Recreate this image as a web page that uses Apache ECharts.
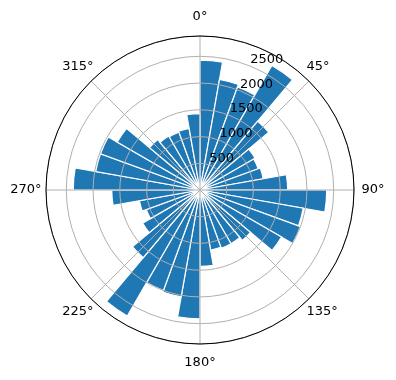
<!DOCTYPE html>
<html>
<head>
<meta charset="utf-8">
<script src="https://cdn.jsdelivr.net/npm/echarts@6/dist/echarts.min.js"></script>
<style>
  html, body { margin: 0; padding: 0; background: #fff; }
  #rose_chart { width: 396px; height: 380px; }
</style>
</head>
<body>
<div id="rose_chart"></div>
<script>
// 每个扇区起始角度（10°一格，顺时针，从正北开始）
const sectors = [
  "0", "10", "20", "30", "40", "50", "60", "70", "80",
  "90", "100", "110", "120", "130", "140", "150", "160", "170",
  "180", "190", "200", "210", "220", "230", "240", "250", "260",
  "270", "280", "290", "300", "310", "320", "330", "340", "350"
];
// 每个扇区的计数
const counts = [
  2430, 2100, 2050, 2690, 1680, 1190, 1160, 1200, 1640,
  2370, 1960, 2000, 1760, 1230, 1160, 1160, 1140, 1430,
  2410, 2030, 2000, 2720, 1650, 1240, 1070, 1150, 1650,
  2370, 1980, 1980, 1790, 1230, 1165, 1150, 1170, 1430
];
const angleTicks = [0, 45, 90, 135, 180, 225, 270, 315];
const radiusTicks = [500, 1000, 1500, 2000, 2500];
const radiusMax = 2880;

const font = { fontFamily: "DejaVu Sans", fontSize: 13, color: "#000" };
const gridColor = "#b0b0b0";

// 角度标签：每个方向用不同的 rich 样式，让文字中心落在同一半径上
const labelStyleName = { 0: "n", 45: "ne", 90: "e", 135: "se", 180: "s", 225: "se", 270: "w", 315: "ne" };
const rich = {
  n: { ...font, padding: [0, 0, 16, 0] },
  s: { ...font, padding: [16, 0, 0, 0] },
  e: { ...font, padding: [0, 0, 0, 11] },
  w: { ...font, padding: [0, 8, 0, 0] },
  ne: { ...font, padding: [0, 0, 10, 0] },
  se: { ...font, padding: [9, 0, 0, 0] }
};

const chart = echarts.init(document.getElementById("rose_chart"));

const option = {
  backgroundColor: "#fff",
  animation: false,
  polar: [
    { center: [200, 190], radius: 154 }, // 柱子
    { center: [200, 190], radius: 154 }, // 网格 + 角度标签
    { center: [200, 190], radius: 154 }  // 半径标签（22.5°方向）
  ],
  angleAxis: [
    {
      polarIndex: 0,
      type: "category",
      data: sectors,
      startAngle: 90,
      clockwise: true,
      show: false
    },
    {
      polarIndex: 1,
      type: "value",
      min: 0,
      max: 360,
      interval: 45,
      startAngle: 90,
      clockwise: true,
      z: 5,
      axisLine: { lineStyle: { color: "#000", width: 1 } },
      axisTick: { show: false },
      axisLabel: {
        ...font,
        margin: -3.5,
        rich: rich,
        formatter: (v) =>
          angleTicks.includes(v) ? "{" + labelStyleName[v] + "|" + v + "°}" : ""
      },
      splitLine: { lineStyle: { color: gridColor, width: 1 } }
    },
    {
      polarIndex: 2,
      type: "value",
      min: 0,
      max: 360,
      startAngle: 67.5,
      clockwise: true,
      show: false
    }
  ],
  radiusAxis: [
    {
      polarIndex: 0,
      type: "value",
      min: 0,
      max: radiusMax,
      show: false
    },
    {
      polarIndex: 1,
      type: "value",
      min: 0,
      max: radiusMax,
      interval: 500,
      z: 5,
      axisLine: { show: false },
      axisTick: { show: false },
      axisLabel: { show: false },
      splitLine: { lineStyle: { color: gridColor, width: 1 } }
    },
    {
      polarIndex: 2,
      type: "value",
      min: 0,
      max: radiusMax,
      interval: 500,
      z: 6,
      axisLine: { show: false },
      axisTick: { show: false },
      splitLine: { show: false },
      axisLabel: {
        ...font,
        margin: 1,
        align: "left",
        verticalAlign: "bottom",
        formatter: (v) => (radiusTicks.includes(v) ? String(v) : "")
      }
    }
  ],
  series: [
    {
      type: "bar",
      coordinateSystem: "polar",
      polarIndex: 0,
      data: counts,
      barCategoryGap: "0%",
      itemStyle: { color: "#1f77b4", borderColor: "#fff", borderWidth: 1.2 }
    }
  ]
};

chart.setOption(option);
</script>
</body>
</html>
